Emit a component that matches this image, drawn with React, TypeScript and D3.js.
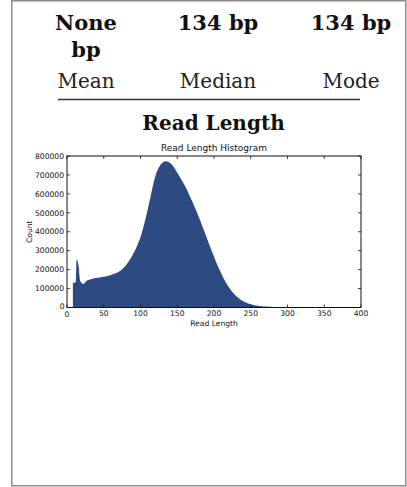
import React from 'react';
import * as d3 from 'd3';

// summary stats shown above the histogram
const statValues = ['None bp', '134 bp', '134 bp'];
const statLabels = ['Mean', 'Median', 'Mode'];

// read length (bp) and count
const readLengths = [
  8, 11, 12, 13, 14, 15, 16, 17, 18, 20, 22, 24, 26, 30, 35, 40, 45, 50, 55, 60,
  65, 70, 75, 80, 85, 90, 95, 100, 105, 110, 115, 120, 125, 130, 134, 138, 142, 146,
  150, 155, 160, 165, 170, 175, 180, 185, 190, 195, 200, 205, 210, 215, 220, 225,
  230, 235, 240, 245, 250, 255, 260, 265, 270, 275, 280, 290, 300, 310, 320, 330,
];
const readCounts = [
  131000, 131000, 140000, 252000, 250000, 235000, 215000, 165000, 140000, 130000,
  124000, 128000, 138000, 146000, 152000, 157000, 159000, 162000, 166000, 172000,
  179000, 188000, 202000, 222000, 250000, 282000, 322000, 372000, 440000, 520000,
  610000, 690000, 740000, 765000, 772000, 768000, 757000, 738000, 712000, 680000,
  645000, 606000, 564000, 519000, 471000, 421000, 370000, 318000, 268000, 220000,
  178000, 140000, 108000, 82000, 61000, 45000, 33000, 24000, 17000, 12500, 9000,
  6500, 4800, 3600, 2700, 1500, 700, 300, 100, 0,
];

const xTicks = [0, 50, 100, 150, 200, 250, 300, 350, 400];
const yTicks = [0, 100000, 200000, 300000, 400000, 500000, 600000, 700000, 800000];

const W = 407;
const H = 487;
const plot = { left: 67, right: 361, top: 156, bottom: 307.5 };
const serif = '"DejaVu Serif", serif';
const sans = '"DejaVu Sans", sans-serif';

export default function App() {
  const x = d3.scaleLinear().domain([0, 400]).range([plot.left, plot.right]);
  const y = d3.scaleLinear().domain([0, 800000]).range([plot.bottom, plot.top]);

  const pts = readLengths.map((l, i) => [l, readCounts[i]] as [number, number]);
  const area = d3.area<[number, number]>()
    .x(d => x(d[0]))
    .y0(y(0))
    .y1(d => y(d[1]))
    .curve(d3.curveMonotoneX);

  const colX = [86, 218, 351];
  const tick = 3;

  return (
    <div style={{ position: 'fixed', left: 0, top: 0 }}>
      <svg width={W} height={H} style={{ display: 'block', background: '#fff' }}>
        <rect x={11.75} y={0.75} width={394} height={485} fill="#fff" stroke="#8c8c8c" strokeWidth={1.5} />

        {statValues.map((v, i) => {
          const words = i === 0 ? ['None', 'bp'] : [v];
          return (
            <text key={i} x={colX[i]} y={29.5} textAnchor="middle" fontFamily={serif} fontWeight="bold" fontSize={21} fill="#111">
              {words.map((w, j) => (
                <tspan key={j} x={colX[i]} dy={j === 0 ? 0 : 27.5}>{w}</tspan>
              ))}
            </text>
          );
        })}
        {statLabels.map((l, i) => (
          <text key={l} x={colX[i]} y={87.5} textAnchor="middle" fontFamily={serif} fontSize={20} fill="#222">{l}</text>
        ))}
        <line x1={58} x2={360} y1={99.5} y2={99.5} stroke="#333" strokeWidth={1.3} />
        <text x={213.5} y={130} textAnchor="middle" fontFamily={serif} fontWeight="bold" fontSize={20} fill="#111">Read Length</text>

        <text x={214} y={150.5} textAnchor="middle" fontFamily={sans} fontSize={9} fill="#111">Read Length Histogram</text>

        <path d={area(pts) || ''} fill="#2d4a82" />

        <rect x={plot.left} y={plot.top} width={plot.right - plot.left} height={plot.bottom - plot.top} fill="none" stroke="#111" strokeWidth={1} />

        {xTicks.map(t => (
          <g key={t}>
            <line x1={x(t)} x2={x(t)} y1={plot.bottom} y2={plot.bottom - tick} stroke="#111" strokeWidth={0.8} />
            <line x1={x(t)} x2={x(t)} y1={plot.top} y2={plot.top + tick} stroke="#111" strokeWidth={0.8} />
            <text x={x(t)} y={t === 0 ? 317 : 316} textAnchor="middle" fontFamily={sans} fontSize={7.6} fill="#111">{t}</text>
          </g>
        ))}
        {yTicks.map(t => (
          <g key={t}>
            <line x1={plot.left} x2={plot.left + tick} y1={y(t)} y2={y(t)} stroke="#111" strokeWidth={0.8} />
            <line x1={plot.right} x2={plot.right - tick} y1={y(t)} y2={y(t)} stroke="#111" strokeWidth={0.8} />
            <text x={t === 0 ? 64.5 : 64} y={y(t) + (t === 0 ? 1.5 : 2.7)} textAnchor="end" fontFamily={sans} fontSize={7.6} fill="#111">{t}</text>
          </g>
        ))}

        <text x={214} y={325.5} textAnchor="middle" fontFamily={sans} fontSize={7.6} fill="#111">Read Length</text>
        <text transform={`translate(32,${(plot.top + plot.bottom) / 2}) rotate(-90)`} textAnchor="middle" fontFamily={sans} fontSize={7.6} fill="#111">Count</text>
      </svg>
    </div>
  );
}
